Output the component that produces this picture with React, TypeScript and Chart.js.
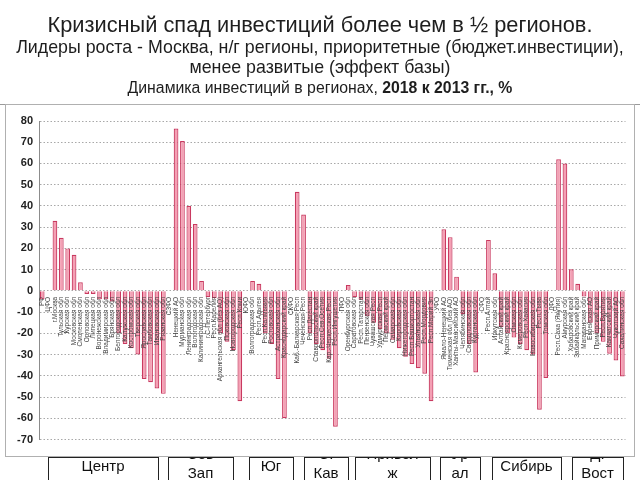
import React, { useEffect, useRef } from "react";
import { Chart, registerables } from "chart.js";

Chart.register(...registerables);

// ---------- DATA ----------
const categories: string[] = [
  "РФ", "ЦФО", "г.Москва", "Тульская обл", "Курская обл", "Московская обл", "Смоленская обл",
  "Орловская обл", "Липецкая обл", "Воронежская обл", "Владимирская обл", "Брянская обл",
  "Белгородская обл", "Калужская обл", "Костромская обл", "Тверская обл", "Ярославская обл",
  "Тамбовская обл", "Ивановская обл", "Рязанская обл",
  "СЗФО", "Ненецкий АО", "Мурманская обл", "Ленинградская обл", "Вологодская обл",
  "Калининградская обл", "г.С-Петербург", "Респ.Карелия", "Архангельская обл (без АО)",
  "Псковская обл", "Новгородская обл", "Респ.Коми",
  "ЮФО", "Волгоградская обл", "Респ.Адыгея", "Респ.Калмыкия", "Ростовская обл",
  "Астраханская обл", "Краснодарский край",
  "СКФО", "Каб.-Балкарская Респ", "Чеченская Респ", "Респ.Дагестан", "Ставропольский край",
  "Респ.Сев.Осетия", "Кар.-Черкесская Респ", "Респ.Ингушетия",
  "ПФО", "Оренбургская обл", "Саратовская обл", "Респ.Татарстан", "Пензенская обл",
  "Чувашская Респ", "Удмуртская Респ", "Пермский край", "Самарская обл", "Кировская обл",
  "Нижегородская обл", "Респ.Башкортостан", "Ульяновская обл", "Респ.Мордовия", "Респ.Марий Эл",
  "УФО", "Ямало-Ненецкий АО", "Тюменская обл (без АО)", "Ханты-Мансийский АО",
  "Челябинская обл", "Свердловская обл", "Курганская обл",
  "СФО", "Респ.Алтай", "Иркутская обл", "Алтайский край", "Красноярский край", "Омская обл",
  "Кемеровская обл", "Респ.Хакасия", "Новосибирская обл", "Респ.Тыва", "Томская обл",
  "ДФО", "Респ.Саха (Якутия)", "Амурская обл", "Хабаровский край", "Забайкальский край",
  "Магаданская обл", "Еврейская АО", "Приморский край", "Респ.Бурятия", "Камчатский край",
  "Чукотский АО", "Сахалинская обл",
];

const values: (number | null)[] = [
  -4, null, 33, 25, 20, 17, 4, -1.5, -1.5, -4, -4, -5, -20, -25, -27, -30, -41.5, -43, -46, -48.5,
  null, 76.5, 70.6, 40, 31.5, 4.7, -3, -3.5, -20, -24, -28, -52,
  null, 4.7, 3.3, -20, -25, -41.5, -60,
  null, 46.7, 36, -20, -25, -28, -32, -64,
  null, 2.8, -3, -4.2, -12, -15, -18, -20, -23, -27, -31, -34.4, -36.4, -39, -52,
  null, 29, 25.3, 6.7, -11, -25, -38.4,
  null, 24, 8.3, -17, -20, -22, -25, -28, -30, -56, -41,
  null, 62, 60, 10.2, 3.3, -2.7, -15, -20, -24, -29.6, -32.8, -40.3,
];

const yMin = -70;
const yMax = 80;
const yStep = 10;

const districtNames: string[] = ["Центр", "Сев\nЗап", "Юг", "С.\nКав", "Привол\nж", "Ур\nал", "Сибирь", "Д.\nВост"];

const titleLine1 = "Кризисный спад инвестиций более чем в ½ регионов.";
const titleLine2 = "Лидеры роста - Москва, н/г регионы, приоритетные (бюджет.инвестиции),";
const titleLine3 = "менее развитые (эффект базы)";
const titleLine4a = "Динамика инвестиций в регионах, ";
const titleLine4b = "2018 к 2013 гг., %";

// ---------- LAYOUT ----------
const districtBoxes: [number, number][] = [
  [48, 158], [168, 233], [249, 293], [304, 348], [355, 430], [440, 480], [492, 561], [572, 623],
];
const FONT = "'Liberation Sans', Arial, sans-serif";

const framePlugin = {
  id: "frame",
  beforeDraw(chart: any) {
    const ctx = chart.ctx;
    ctx.save();
    ctx.fillStyle = "#fff";
    ctx.fillRect(0, 0, 640, 480);
    ctx.strokeStyle = "#222";
    ctx.lineWidth = 1;
    ctx.font = `15px ${FONT}`;
    ctx.fillStyle = "#111";
    ctx.textAlign = "center";
    ctx.textBaseline = "middle";
    districtNames.forEach((name, i) => {
      const [x1, x2] = districtBoxes[i];
      ctx.strokeRect(x1 + 0.5, 457.5, x2 - x1, 40);
      ctx.save();
      ctx.beginPath();
      ctx.rect(x1, 458, x2 - x1, 30);
      ctx.clip();
      const lines = name.split("\n");
      const cx = (x1 + x2) / 2;
      if (lines.length === 1) {
        ctx.fillText(lines[0], cx, 467);
      } else {
        ctx.fillText(lines[0], cx, 455);
        ctx.fillText(lines[1], cx, 474);
      }
      ctx.restore();
    });
    ctx.strokeStyle = "#9a9a9a";
    ctx.beginPath();
    ctx.moveTo(0, 104.5);
    ctx.lineTo(640, 104.5);
    ctx.stroke();
    ctx.strokeStyle = "#b0b0b0";
    ctx.strokeRect(5.5, 104.5, 629, 352);
    ctx.restore();
  },
};

const labelPlugin = {
  id: "catLabels",
  afterDatasetsDraw(chart: any) {
    const ctx = chart.ctx;
    const xs = chart.scales.x;
    const ys = chart.scales.y;
    const y0 = ys.getPixelForValue(0);
    ctx.save();
    ctx.font = `6.5px ${FONT}`;
    ctx.fillStyle = "#444";
    ctx.textAlign = "right";
    ctx.textBaseline = "middle";
    categories.forEach((c, i) => {
      const px = xs.getPixelForValue(i);
      ctx.save();
      ctx.translate(px, y0 + 6);
      ctx.rotate(-Math.PI / 2);
      ctx.fillText(c, 0, 0);
      ctx.restore();
    });
    ctx.restore();
  },
};

function ChartCanvas() {
  const ref = useRef<HTMLCanvasElement>(null);
  useEffect(() => {
    if (!ref.current) return;
    const chart = new Chart(ref.current, {
      type: "bar",
      data: {
        labels: categories,
        datasets: [
          {
            data: values as any,
            backgroundColor: "#f4a0b4",
            borderColor: "#c93a60",
            borderWidth: 1.2,
            barPercentage: 0.74,
            categoryPercentage: 1,
          },
        ],
      },
      options: {
        responsive: false,
        animation: false,
        devicePixelRatio: 1,
        layout: { padding: { top: 121, bottom: 40.5, left: 0, right: 14.5 } },
        plugins: { legend: { display: false }, tooltip: { enabled: false } },
        scales: {
          x: {
            type: "category",
            offset: true,
            grid: { display: false },
            border: { display: false },
            ticks: { display: false },
            afterFit: (s: any) => {
              s.height = 0;
            },
          },
          y: {
            min: yMin,
            max: yMax,
            afterFit: (s: any) => {
              s.width = 39;
            },
            ticks: {
              stepSize: yStep,
              padding: 6,
              color: "#222",
              font: { family: FONT, size: 11, weight: "bold" },
            },
            grid: { color: "#a8a8a8", drawTicks: false, lineWidth: 1 },
            border: { display: true, color: "#8c8c8c", width: 1, dash: [1.5, 2] },
          },
        },
      },
      plugins: [framePlugin, labelPlugin],
    });
    return () => chart.destroy();
  }, []);
  return <canvas ref={ref} width={640} height={480} style={{ position: "absolute", left: 0, top: 0 }} />;
}

const lineStyle = (top: number, size: number): React.CSSProperties => ({
  position: "absolute",
  left: 0,
  width: 640,
  top,
  height: size + 4,
  lineHeight: `${size + 4}px`,
  fontSize: size,
  fontFamily: FONT,
  color: "#1e1e1e",
  textAlign: "center",
  whiteSpace: "nowrap",
});

export default function App() {
  return (
    <div style={{ position: "fixed", left: 0, top: 0, width: 640, height: 480, background: "#fff", overflow: "hidden" }}>
      <ChartCanvas />
      <div style={lineStyle(12, 21.8)}>{titleLine1}</div>
      <div style={lineStyle(37, 17.8)}>{titleLine2}</div>
      <div style={lineStyle(57, 17.8)}>{titleLine3}</div>
      <div style={lineStyle(78, 15.8)}>
        {titleLine4a}
        <b>{titleLine4b}</b>
      </div>
    </div>
  );
}
